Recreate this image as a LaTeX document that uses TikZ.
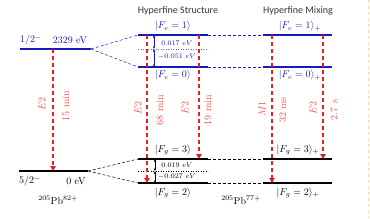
\documentclass[tikz,border=0pt]{standalone}
\usepackage{amsmath}
\usepackage{fontspec}
\newfontfamily\titlefont{Carlito}
\usetikzlibrary{arrows.meta,positioning,calc}

\definecolor{lvlblue}{RGB}{25,25,185}
\definecolor{decayred}{RGB}{228,30,36}
\definecolor{labelred}{RGB}{232,80,80}

\tikzset{
  level/.style={line width=1.4pt},
  upperlvl/.style={level, draw=lvlblue},
  lowerlvl/.style={level, draw=black},
  link/.style={densely dashed, line width=0.5pt},
  midline/.style={dotted, line width=0.5pt},
  decay/.style={draw=decayred, line width=1.1pt, dash pattern=on 4pt off 3pt,
                -{Triangle[length=5pt,width=5.5pt]}},
  gaparrow/.style={{Latex[length=2.5pt,width=2.5pt]}-{Latex[length=2.5pt,width=2.5pt]}, line width=0.5pt},
  declabel/.style={text=labelred, rotate=90, inner sep=0pt},
  gaplabel/.style={font=\scriptsize, inner sep=0pt},
  ketlabel/.style={inner sep=1pt},
  title/.style={font=\titlefont, text=black!80},
}

\begin{document}
\begin{tikzpicture}[x=1pt,y=-1pt]
  \useasboundingbox (0,0) rectangle (370,218);

  % x range of the hyperfine levels
  \def\hl{138} \def\hr{208}
  \def\ml{263} \def\mr{332}

  % nuclear levels
  \coordinate (isoL) at (20,49);  \coordinate (isoR) at (91,49);
  \coordinate (gndL) at (19,171); \coordinate (gndR) at (88,171);

  % hyperfine structure levels
  \coordinate (e1L) at (\hl,35);  \coordinate (e1R) at (\hr,35);
  \coordinate (e0L) at (\hl,67);  \coordinate (e0R) at (\hr,67);
  \coordinate (emL) at (\hl,49);  \coordinate (emR) at (\hr,49);
  \coordinate (g3L) at (\hl,159); \coordinate (g3R) at (\hr,159);
  \coordinate (g2L) at (\hl,183); \coordinate (g2R) at (\hr,183);
  \coordinate (gmL) at (\hl,171); \coordinate (gmR) at (\hr,171);

  % hyperfine mixing levels
  \coordinate (p1L) at (\ml,35);  \coordinate (p1R) at (\mr,35);
  \coordinate (p0L) at (\ml,67);  \coordinate (p0R) at (\mr,67);
  \coordinate (q3L) at (\ml,159); \coordinate (q3R) at (\mr,159);
  \coordinate (q2L) at (\ml,183); \coordinate (q2R) at (\mr,183);

  % columns of the decay arrows
  \coordinate (col1) at (53,0);
  \coordinate (col2) at (147,0);
  \coordinate (col3) at (199,0);
  \coordinate (col4) at (272,0);
  \coordinate (col5) at (323,0);
  \coordinate (gapA) at (154,0);
  \coordinate (gapB) at (155,0);

  % dashed links between the columns
  \draw[link, lvlblue] (isoR) -- (e1L);
  \draw[link, lvlblue] (isoR) -- (e0L);
  \draw[link] (gndR) -- (g3L);
  \draw[link] (gndR) -- (g2L);
  \draw[link, lvlblue] (e1R) -- (p1L);
  \draw[link, lvlblue] (e0R) -- (p0L);
  \draw[link] (g3R) -- (q3L);
  \draw[link] (g2R) -- (q2L);

  % centre of gravity lines
  \draw[midline, lvlblue!70] (emL) -- (emR);
  \draw[midline] (gmL) -- (gmR);

  % the levels
  \draw[upperlvl] (isoL) -- (isoR);
  \draw[lowerlvl] (gndL) -- (gndR);
  \draw[upperlvl] (e1L) -- (e1R);
  \draw[upperlvl] (e0L) -- (e0R);
  \draw[lowerlvl] (g3L) -- (g3R);
  \draw[lowerlvl] (g2L) -- (g2R);
  \draw[upperlvl] (p1L) -- (p1R);
  \draw[upperlvl] (p0L) -- (p0R);
  \draw[lowerlvl] (q3L) -- (q3R);
  \draw[lowerlvl] (q2L) -- (q2R);

  % splittings
  \draw[gaparrow, lvlblue] (gapA |- e1L) -- (gapA |- emL);
  \draw[gaparrow, lvlblue] (gapA |- emL) -- (gapA |- e0L);
  \draw[gaparrow] (gapB |- g3L) -- (gapB |- gmL);
  \draw[gaparrow] (gapB |- gmL) -- (gapB |- g2L);
  \node[gaplabel, lvlblue] (splitE1) at (177,43) {$0.017\ eV$};
  \node[gaplabel, lvlblue] (splitE0) at (177,57) {$-0.051\ eV$};
  \node[gaplabel] (splitG3) at (177,165) {$0.019\ eV$};
  \node[gaplabel] (splitG2) at (177,177) {$-0.027\ eV$};

  % decays
  \draw[decay] (col1 |- isoL) -- (col1 |- gndL);
  \draw[decay] (col2 |- e1L) -- (col2 |- g2L);
  \draw[decay] (col3 |- e1L) -- (col3 |- g3L);
  \draw[decay] (col4 |- p1L) -- (col4 |- q2L);
  \draw[decay] (col5 |- p1L) -- (col5 |- q3L);

  \node[declabel] (mult1) at (42,104) {$E2$};
  \node[declabel] (life1) at (66,106) {15 min};
  \node[declabel] (mult2) at (138,108) {$E2$};
  \node[declabel] (life2) at (160,110) {68 min};
  \node[declabel] (mult3) at (185,108) {$E2$};
  \node[declabel] (life3) at (208,110) {19 min};
  \node[declabel] (mult4) at (262,109) {$M1$};
  \node[declabel] (life4) at (283,110) {32 ms};
  \node[declabel] (mult5) at (313,108) {$E2$};
  \node[declabel] (life5) at (334,110) {2.7 s};

  % level labels
  \node[text=lvlblue] (spinIso) at (31,40) {1/2$^-$};
  \node[text=lvlblue] (enIso) at (70,40) {2329 eV};
  \node (spinGnd) at (30,181) {5/2$^-$};
  \node (enGnd) at (76,181) {0 eV};
  \node (bare) at (58,200) {$^{205}$Pb$^{82+}$};
  \node (hlike) at (241,200) {$^{205}$Pb$^{77+}$};

  \node[ketlabel, text=lvlblue] (ketE1) at (173,26) {$|F_e = 1\rangle$};
  \node[ketlabel, text=lvlblue] (ketE0) at (173,75) {$|F_e = 0\rangle$};
  \node[ketlabel] (ketG3) at (173,150) {$|F_g = 3\rangle$};
  \node[ketlabel] (ketG2) at (173,193) {$|F_g = 2\rangle$};
  \node[ketlabel, text=lvlblue] (mixE1) at (300,26) {$|F_e = 1\rangle_+$};
  \node[ketlabel, text=lvlblue] (mixE0) at (300,75) {$|F_e = 0\rangle_+$};
  \node[ketlabel] (mixG3) at (298,150) {$|F_g = 3\rangle_+$};
  \node[ketlabel] (mixG2) at (298,193) {$|F_g = 2\rangle_+$};

  % titles
  \node[title] (hfs) at (178,11) {Hyperfine Structure};
  \node[title] (hfm) at (298,11) {Hyperfine Mixing};

  % edge of the next panel
  \coordinate (edgeT) at (368,0);
  \coordinate (edgeB) at (368,218);
  \draw[orange!30, dashed, line width=0.5pt] (edgeT) -- (edgeB);
\end{tikzpicture}
\end{document}
